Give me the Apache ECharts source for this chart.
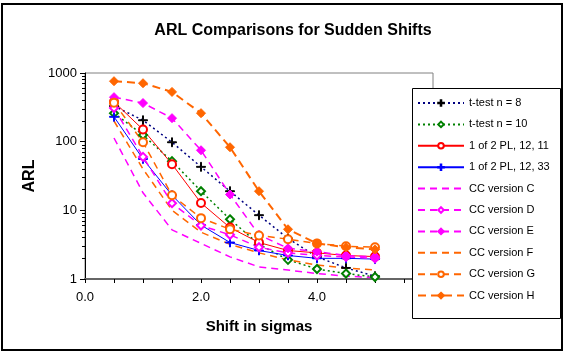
<!DOCTYPE html>
<html>
<head>
<meta charset="utf-8">
<script src="https://cdn.jsdelivr.net/npm/echarts@6/dist/echarts.min.js"></script>
<style>
  html, body { margin: 0; padding: 0; background: #fff; }
  #chart { width: 564px; height: 351px; }
</style>
</head>
<body>
<div id="chart"></div>
<script>
// Shift sizes (in sigmas) at which the average run length was evaluated
const shifts = [0.5, 1.0, 1.5, 2.0, 2.5, 3.0, 3.5, 4.0, 4.5, 5.0];

// Average run length for each procedure
const tTest8   = [330, 205, 98, 43, 19, 8.5, 3.9, 2.1, 1.45, 1.1];
const tTest10  = [260, 125, 52, 19, 7.4, 3.2, 1.9, 1.4, 1.2, 1.07];
const pl1211   = [380, 150, 47, 12.8, 5.6, 3.4, 2.6, 2.4, 2.2, 2.12];
const pl1233   = [230, 56, 16.6, 6.1, 3.4, 2.6, 2.2, 2.0, 2.0, 1.95];
const ccC      = [113, 18, 5.2, 3.3, 2.1, 1.5, 1.35, 1.2, 1.1, 1.05];
const ccD      = [310, 60, 12.7, 6.0, 4.4, 2.9, 2.4, 2.2, 2.1, 2.0];
const ccE      = [445, 365, 220, 75, 17, 4.4, 2.8, 2.5, 2.2, 2.1];
const ccF      = [200, 40, 10, 4.8, 3.2, 2.4, 1.9, 1.6, 1.45, 1.35];
const ccG      = [370, 98, 16.6, 7.7, 5.3, 4.3, 3.8, 3.3, 3.0, 2.9];
const ccH      = [760, 710, 530, 260, 83, 19, 5.3, 3.3, 2.9, 2.7];

// Axis tick labels
const yTickLabels = [1, 10, 100, 1000];
const yMinorTicks = [2, 3, 4, 5, 6, 7, 8, 9, 20, 30, 40, 50, 60, 70, 80, 90, 200, 300, 400, 500, 600, 700, 800, 900];
const xTicks = [0, 0.5, 1, 1.5, 2, 2.5, 3, 3.5, 4, 4.5, 5, 5.5, 6];

const FONT = 'Arial, "Liberation Sans", sans-serif';
const PLUS = 'path://M4.5,0h1v4.5h4.5v1h-4.5v4.5h-1v-4.5h-4.5v-1h4.5z';

function pairs(values) {
  return shifts.map((s, i) => [s, values[i]]);
}

function line(name, values, opts) {
  return {
    name: name,
    type: 'line',
    data: pairs(values),
    symbol: opts.symbol || 'none',
    symbolSize: opts.size || 8,
    showSymbol: !!opts.symbol,
    lineStyle: { color: opts.lineColor, width: opts.width || 1.2, type: opts.dash || 'solid' },
    itemStyle: {
      color: opts.markColor || opts.lineColor,
      borderColor: opts.markColor || opts.lineColor,
      borderWidth: 1
    },
    emphasis: { disabled: true },
    animation: false
  };
}

const MAG = '#FF00FF';
const ORA = '#FF6600';
const DASH = [7, 5];

const series = [
  line('t-test n = 8', tTest8, { lineColor: '#000080', markColor: '#000000', symbol: PLUS, size: 9, dash: [2, 3], width: 1.5 }),
  line('t-test n = 10', tTest10, { lineColor: '#008000', symbol: 'emptyDiamond', size: 8, dash: [2, 3], width: 1.5 }),
  line('1 of 2 PL, 12, 11', pl1211, { lineColor: '#FF0000', symbol: 'emptyCircle', size: 8, width: 1 }),
  line('1 of 2 PL, 12, 33', pl1233, { lineColor: '#0000FF', symbol: PLUS, size: 9, width: 1 }),
  line('CC version C', ccC, { lineColor: MAG, dash: DASH, width: 1.5 }),
  line('CC version D', ccD, { lineColor: MAG, symbol: 'emptyDiamond', size: 8, dash: DASH, width: 1.5 }),
  line('CC version E', ccE, { lineColor: MAG, symbol: 'diamond', size: 9, dash: DASH, width: 1.5 }),
  line('CC version F', ccF, { lineColor: ORA, dash: DASH, width: 1.5 }),
  line('CC version G', ccG, { lineColor: ORA, symbol: 'emptyCircle', size: 8, dash: DASH, width: 1.5 }),
  line('CC version H', ccH, { lineColor: ORA, symbol: 'diamond', size: 9, dash: [8, 5], width: 2 })
];

// Legend entries: series drawn without markers get a plain line key
const legendData = series.map(s => {
  const entry = { name: s.name, lineStyle: { width: 2 } };
  if (s.symbol === 'none') {
    entry.itemStyle = { color: 'rgba(0,0,0,0)', borderColor: 'rgba(0,0,0,0)', opacity: 0 };
  }
  return entry;
});

const chart = echarts.init(document.getElementById('chart'), null, { renderer: 'canvas' });

chart.setOption({
  backgroundColor: '#ffffff',
  animation: false,
  title: {
    text: 'ARL Comparisons for Sudden Shifts',
    left: 288,
    textAlign: 'center',
    top: 18,
    textStyle: { fontFamily: FONT, fontSize: 16, fontWeight: 'bold', color: '#000' }
  },
  grid: {
    left: 85, top: 73, right: 131, bottom: 72,
    show: true, borderColor: '#808080', borderWidth: 1, backgroundColor: 'transparent'
  },
  xAxis: {
    type: 'value',
    min: 0, max: 6, interval: 2,
    name: 'Shift in sigmas',
    nameLocation: 'middle',
    nameGap: 40,
    nameTextStyle: { fontFamily: FONT, fontSize: 15, fontWeight: 'bold', color: '#000' },
    axisLine: { show: true, lineStyle: { color: '#666666', width: 2 } },
    axisTick: { show: true, customValues: xTicks, length: 4, lineStyle: { color: '#000', width: 1 } },
    axisLabel: {
      fontFamily: FONT, fontSize: 13, color: '#000', margin: 12,
      formatter: v => v.toFixed(1)
    },
    splitLine: { show: false }
  },
  yAxis: [
    {
      type: 'log', logBase: 10, min: 1, max: 1000,
      name: 'ARL',
      nameLocation: 'middle',
      nameRotate: 90,
      nameGap: 46,
      nameTextStyle: { fontFamily: FONT, fontSize: 16, fontWeight: 'bold', color: '#000' },
      axisLine: { show: true, lineStyle: { color: '#000', width: 1 } },
      axisTick: { show: true, customValues: yTickLabels, length: 5, lineStyle: { color: '#000' } },
      axisLabel: {
        fontFamily: FONT, fontSize: 13, color: '#000', margin: 8,
        customValues: yTickLabels,
        formatter: v => String(Math.round(v))
      },
      splitLine: { show: false }
    },
    {
      type: 'log', logBase: 10, min: 1, max: 1000,
      position: 'left',
      axisLine: { show: false },
      axisTick: { show: true, customValues: yMinorTicks, length: 3, lineStyle: { color: '#000' } },
      axisLabel: { show: false },
      splitLine: { show: false }
    }
  ],
  legend: {
    orient: 'vertical',
    left: 417,
    top: 97,
    itemWidth: 46,
    itemHeight: 7,
    itemGap: 9.4,
    padding: 0,
    z: 20,
    selectedMode: false,
    textStyle: { fontFamily: FONT, fontSize: 11, color: '#000', lineHeight: 12 },
    data: legendData
  },
  graphic: [
    {
      type: 'rect', z: 10, silent: true,
      shape: { x: 412.5, y: 88.5, width: 148, height: 230 },
      style: { fill: '#ffffff', stroke: '#000000', lineWidth: 1 }
    },
    {
      type: 'rect', z: 30, silent: true,
      shape: { x: 2, y: 4, width: 560, height: 346 },
      style: { fill: 'none', stroke: '#000000', lineWidth: 2 }
    }
  ],
  series: series
});
</script>
</body>
</html>
